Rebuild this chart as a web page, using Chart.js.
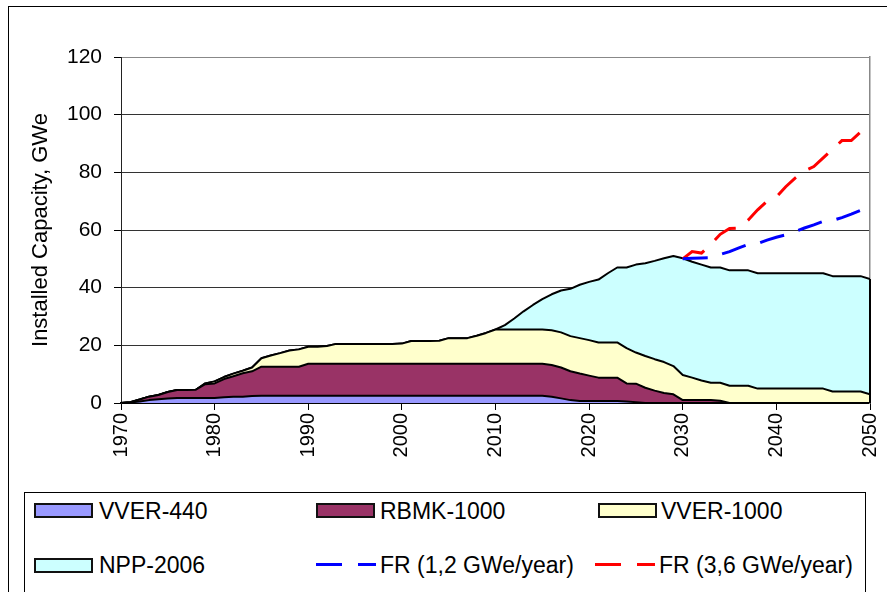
<!DOCTYPE html>
<html>
<head>
<meta charset="utf-8">
<script src="https://cdn.jsdelivr.net/npm/chart.js@4.4.1/dist/chart.umd.min.js"></script>
<style>
  html, body { margin: 0; padding: 0; background: #fff; }
  #wrap { position: relative; width: 887px; height: 592px; overflow: hidden; font-family: "Liberation Sans", Arial, sans-serif; }
  #frame { position: absolute; left: 8px; top: 6px; width: 900px; height: 700px; border: 1px solid #000; box-sizing: border-box; }
  canvas { position: absolute; left: 0; top: 0; }
  #legend { position: absolute; left: 24px; top: 492px; width: 842px; height: 200px; border: 1px solid #000; box-sizing: border-box; background: #fff; }
  .sw { position: absolute; width: 59px; height: 15px; border: 2px solid #111; box-sizing: border-box; }
  .dash { position: absolute; height: 3px; }
  .lt { position: absolute; font-size: 23px; line-height: 26px; color: #000; white-space: nowrap; }
</style>
</head>
<body>
<div id="wrap">
  <div id="frame"></div>
  <canvas id="c" width="887" height="592"></canvas>
  <div id="legend"></div>
</div>
<script>
// ---- Data ----
const years = [1970,1971,1972,1973,1974,1975,1976,1977,1978,1979,
  1980,1981,1982,1983,1984,1985,1986,1987,1988,1989,
  1990,1991,1992,1993,1994,1995,1996,1997,1998,1999,
  2000,2001,2002,2003,2004,2005,2006,2007,2008,2009,
  2010,2011,2012,2013,2014,2015,2016,2017,2018,2019,
  2020,2021,2022,2023,2024,2025,2026,2027,2028,2029,
  2030,2031,2032,2033,2034,2035,2036,2037,2038,2039,
  2040,2041,2042,2043,2044,2045,2046,2047,2048,2049,2050];

const vver440 = [0,0.2,0.5,1.0,1.3,1.6,1.7,1.7,1.7,1.7,
  1.7,2.0,2.2,2.2,2.4,2.5,2.5,2.5,2.5,2.5,
  2.5,2.5,2.5,2.5,2.5,2.5,2.5,2.5,2.5,2.5,
  2.5,2.5,2.5,2.5,2.5,2.5,2.5,2.5,2.5,2.5,
  2.5,2.5,2.5,2.5,2.5,2.5,2.2,1.6,1.0,0.7,
  0.7,0.7,0.7,0.7,0.5,0.3,0,0,0,0,
  0,0,0,0,0,0,0,0,0,0,
  0,0,0,0,0,0,0,0,0,0,0];

const rbmk1000 = [0,0.1,0.7,1.2,1.5,2.2,2.8,2.8,2.9,4.8,
  5.1,6.3,7.1,8.1,8.6,10.1,10.1,10.1,10.1,10.1,
  11.1,11.1,11.1,11.1,11.1,11.1,11.1,11.1,11.1,11.1,
  11.1,11.1,11.1,11.1,11.1,11.1,11.1,11.1,11.1,11.1,
  11.1,11.1,11.1,11.1,11.1,11.1,11.0,10.7,10.0,9.5,
  8.8,8.1,8.1,8.1,6.3,6.4,5.3,4.3,3.5,3.0,
  1.0,1.0,1.0,1.0,0.8,0,0,0,0,0,
  0,0,0,0,0,0,0,0,0,0,0];

const vver1000 = [0,0,0,0,0,0,0,0,0,0.3,
  0.7,0.7,0.9,0.9,1.3,2.9,3.9,4.7,5.6,6.0,
  5.9,5.9,6.2,6.9,6.9,6.9,6.9,6.9,6.9,6.9,
  7.0,7.9,7.9,7.9,8.0,8.9,8.9,8.9,9.7,10.7,
  11.9,11.9,11.9,11.9,11.9,11.9,12.0,12.2,12.2,12.3,
  12.3,12.2,12.2,12.2,12.2,10.8,11.0,10.9,10.7,9.8,
  8.7,7.8,6.8,6.0,6.2,6.0,6.0,6.0,5.0,5.0,
  5.0,5.0,5.0,5.0,5.0,5.0,4.0,4.0,4.0,4.0,3.0];

const npp2006 = [0,0,0,0,0,0,0,0,0,0,
  0,0,0,0,0,0,0,0,0,0,
  0,0,0,0,0,0,0,0,0,0,
  0,0,0,0,0,0,0,0,0,0,
  0,1.5,3.8,6.3,8.5,10.5,12.5,14.5,16.4,18.5,
  20.2,21.8,24.0,26.0,28.0,30.5,32.2,34.1,36.0,38.2,
  40.5,40.2,40.2,40.0,40.0,40.0,40.0,40.0,40.0,40.0,
  40.0,40.0,40.0,40.0,40.0,40.0,40.0,40.0,40.0,40.0,40.0];

const frYears = [2030,2031,2032,2033,2034,2035,2036,2037,2038,2039,
  2040,2041,2042,2043,2044,2045,2046,2047,2048,2049,2050];
const fr12 = [50.0,50.2,50.3,50.4,51.5,52.5,53.8,55.0,55.3,56.5,
  57.5,58.3,59.5,60.7,61.8,63.0,63.3,64.3,65.5,66.8,67.3];
const fr36 = [50.0,52.5,52.0,55.0,58.5,60.5,60.7,63.5,67.0,70.0,
  71.5,75.0,78.0,80.5,82.0,85.0,88.0,91.0,91.0,94.0,96.5];

const yTicks = [0,20,40,60,80,100,120];
const xTicks = [1970,1980,1990,2000,2010,2020,2030,2040,2050];

const seriesNames = ['VVER-440','RBMK-1000','VVER-1000','NPP-2006','FR (1,2 GWe/year)','FR (3,6 GWe/year)'];
const seriesColors = ['#9999FF','#993366','#FFFFCC','#CCFFFF','#0000FF','#FF0000'];

// ---- Build ----
const pts = (xs, ys) => xs.map((x, i) => ({x: x, y: ys[i]}));
const areaDs = (label, data, color, fill) => ({
  type: 'line', label, data: pts(years, data), stack: 'a',
  backgroundColor: color, borderColor: '#000', borderWidth: 2,
  fill, pointRadius: 0, tension: 0, borderJoinStyle: 'round'
});
const frDs = (label, xs, data, color, st) => ({
  type: 'line', label, data: pts(xs, data), stack: st,
  borderColor: color, borderWidth: 3, borderDash: [25, 15],
  borderCapStyle: 'butt', fill: false, pointRadius: 0, tension: 0
});

const datasets = [
  frDs(seriesNames[4], frYears, fr12, seriesColors[4], 'f1'),
  frDs(seriesNames[5], frYears, fr36, seriesColors[5], 'f2'),
  areaDs(seriesNames[0], vver440, seriesColors[0], 'origin'),
  areaDs(seriesNames[1], rbmk1000, seriesColors[1], '-1'),
  areaDs(seriesNames[2], vver1000, seriesColors[2], '-1'),
  areaDs(seriesNames[3], npp2006, seriesColors[3], '-1')
];

// closes the stacked area at its right end, as the reference does
const edgePlugin = {
  id: 'edge',
  afterDatasetsDraw(chart) {
    const meta = chart.getDatasetMeta(datasets.length - 1);
    const last = meta.data[meta.data.length - 1];
    if (!last) return;
    const ctx = chart.ctx, y0 = chart.scales.y.getPixelForValue(0);
    ctx.save();
    ctx.strokeStyle = '#000'; ctx.lineWidth = 2;
    ctx.beginPath(); ctx.moveTo(last.x, last.y); ctx.lineTo(last.x, y0); ctx.stroke();
    ctx.restore();
  }
};

new Chart(document.getElementById('c'), {
  type: 'line',
  data: { datasets },
  plugins: [edgePlugin],
  options: {
    responsive: false,
    animation: false,
    events: [],
    layout: { padding: { top: 57, right: 17, left: 0, bottom: 0 } },
    plugins: { legend: { display: false }, tooltip: { enabled: false } },
    scales: {
      x: {
        type: 'linear', min: 1970, max: 2050,
        afterFit: s => { s.height = 189; s.paddingLeft = 0; s.paddingRight = 0; },
        afterBuildTicks: s => { s.ticks = xTicks.map(v => ({value: v})); },
        ticks: { minRotation: 90, maxRotation: 90, autoSkip: false, padding: 3, color: '#000',
          font: { family: 'Liberation Sans', size: 20 }, callback: v => String(v) },
        grid: { drawOnChartArea: false, drawTicks: true, tickLength: 7, tickColor: '#000', tickWidth: 1 },
        border: { color: '#000', width: 2 }
      },
      y: {
        stacked: true, min: 0, max: 120,
        afterFit: s => { s.width = 121; s.paddingTop = 0; s.paddingBottom = 0; },
        afterBuildTicks: s => { s.ticks = yTicks.map(v => ({value: v})); },
        ticks: { padding: 12, color: '#000', font: { family: 'Liberation Sans', size: 21 } },
        grid: { color: c => (c.tick && c.tick.value === 120) ? '#888' : '#333', lineWidth: 1,
          drawTicks: true, tickLength: 7, tickColor: '#000' },
        border: { color: '#222', width: 1 },
        title: { display: true, text: 'Installed Capacity, GWe', color: '#000',
          font: { family: 'Liberation Sans', size: 22 }, padding: { top: 28, bottom: 0 } }
      },
      y2: {
        position: 'right', min: 0, max: 120, display: true,
        afterFit: s => { s.width = 0; s.paddingTop = 0; s.paddingBottom = 0; },
        ticks: { display: false },
        grid: { drawOnChartArea: false, drawTicks: false },
        border: { color: '#888', width: 1.5 }
      }
    }
  }
});

// ---- HTML legend ----
const leg = document.getElementById('legend');
const L = 24, T = 492;
const items = [
  {i:0, kind:'box', sx:34, sy:503, tx:99, ty:498},
  {i:1, kind:'box', sx:316, sy:503, tx:380, ty:498},
  {i:2, kind:'box', sx:598, sy:503, tx:661, ty:498},
  {i:3, kind:'box', sx:34, sy:558, tx:99, ty:552},
  {i:4, kind:'dash', sx:316, sy:563, tx:380, ty:552},
  {i:5, kind:'dash', sx:595, sy:563, tx:659, ty:552}
];
items.forEach(it => {
  if (it.kind === 'box') {
    const d = document.createElement('div');
    d.className = 'sw';
    d.style.left = (it.sx - L - 1) + 'px';
    d.style.top = (it.sy - T - 1) + 'px';
    d.style.background = seriesColors[it.i];
    leg.appendChild(d);
  } else {
    [[0, 26], [42, 18]].forEach(([off, w]) => {
      const d = document.createElement('div');
      d.className = 'dash';
      d.style.left = (it.sx - L - 1 + off) + 'px';
      d.style.top = (it.sy - T - 1) + 'px';
      d.style.width = w + 'px';
      d.style.background = seriesColors[it.i];
      leg.appendChild(d);
    });
  }
  const t = document.createElement('div');
  t.className = 'lt';
  t.style.left = (it.tx - L - 1) + 'px';
  t.style.top = (it.ty - T - 1) + 'px';
  t.textContent = seriesNames[it.i];
  leg.appendChild(t);
});
</script>
</body>
</html>
